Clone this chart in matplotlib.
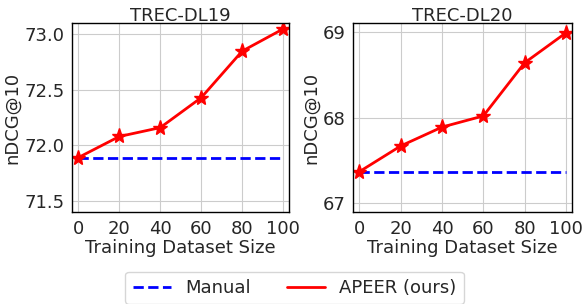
import numpy as np
import matplotlib.pyplot as plt
import seaborn as sns
from matplotlib.lines import Line2D

sizes = [0, 20, 40, 60, 80, 100]
dl19_apeer = [71.89, 72.08, 72.16, 72.43, 72.85, 73.05]
dl19_manual = 71.89
dl20_apeer = [67.37, 67.67, 67.89, 68.02, 68.64, 68.99]
dl20_manual = 67.37

sns.set_style('whitegrid')
plt.rcParams['font.family'] = ['DejaVu Sans']

fig = plt.figure(figsize=(5.82, 3.04), dpi=100)
ax1 = fig.add_axes([0.124, 0.303, 0.373, 0.62])
ax2 = fig.add_axes([0.607, 0.303, 0.376, 0.62])

panels = [
    (ax1, 'TREC-DL19', dl19_apeer, dl19_manual, (71.4, 73.1), [71.5, 72.0, 72.5, 73.0], '{:.1f}'),
    (ax2, 'TREC-DL20', dl20_apeer, dl20_manual, (66.9, 69.1), [67, 68, 69], '{:.0f}'),
]

for ax, title, apeer, manual, ylim, yticks, fmt in panels:
    ax.plot(sizes, [manual] * len(sizes), color='blue', linestyle='--', linewidth=2)
    ax.plot(sizes, apeer, color='red', linewidth=2, marker='*', markersize=11)
    ax.set_title(title, fontsize=13, pad=2)
    ax.set_xlabel('Training Dataset Size', fontsize=13, labelpad=1)
    ax.set_ylabel('nDCG@10', fontsize=13, labelpad=2)
    ax.set_xlim(-3, 103)
    ax.set_ylim(*ylim)
    ax.set_xticks(sizes)
    ax.set_yticks(yticks)
    ax.set_yticklabels([fmt.format(v) for v in yticks])
    ax.tick_params(labelsize=13, pad=2)
    for s in ax.spines.values():
        s.set_edgecolor('black')
        s.set_linewidth(1)

# legend shows plain lines, no star marker
handles = [
    Line2D([], [], color='blue', linestyle='--', linewidth=2),
    Line2D([], [], color='red', linewidth=2),
]
fig.legend(handles, ['Manual', 'APEER (ours)'], loc='center', bbox_to_anchor=(0.506, 0.053), ncol=2,
           fontsize=13, handlelength=2.1, handletextpad=0.8, columnspacing=2.0, frameon=True)

fig.savefig('out.png', dpi=100)
